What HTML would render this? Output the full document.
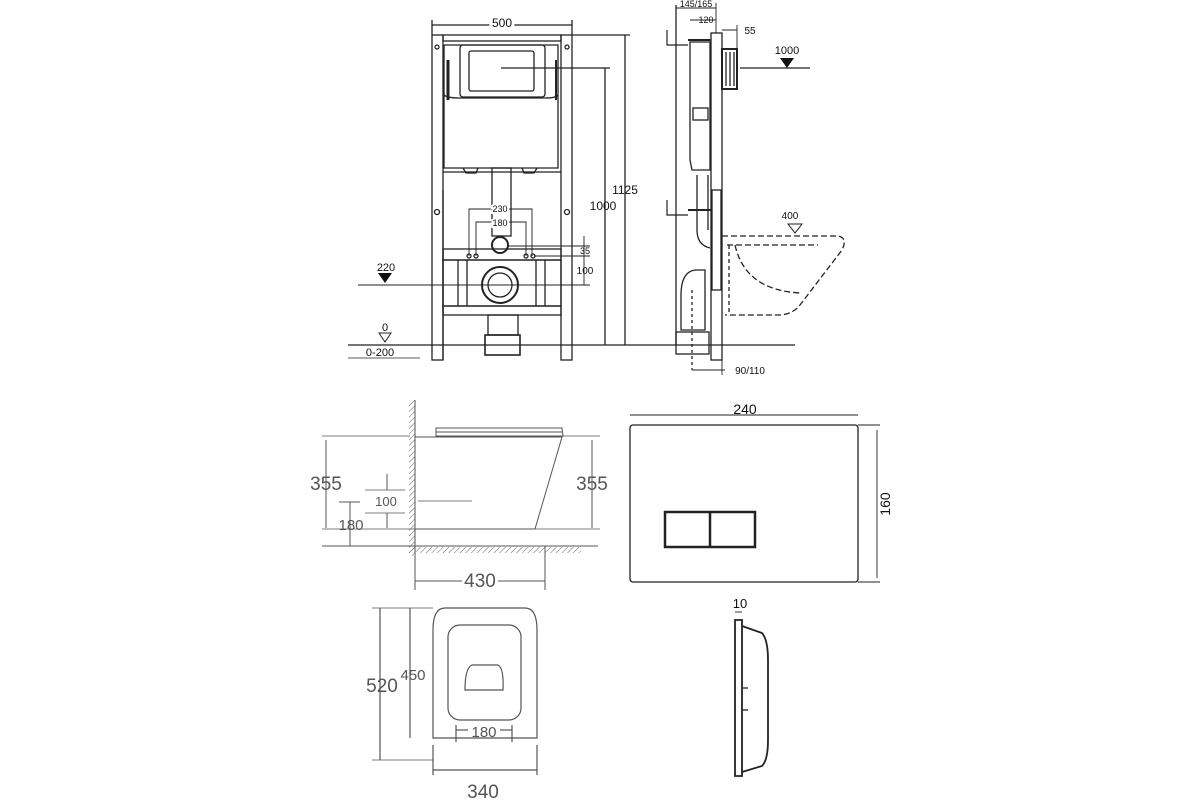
<!DOCTYPE html>
<html><head><meta charset="utf-8"><style>
html,body{margin:0;padding:0;background:#fff;}
svg{display:block;font-family:"Liberation Sans",sans-serif;}
</style></head><body>
<svg width="1200" height="800" viewBox="0 0 1200 800" xmlns="http://www.w3.org/2000/svg">
<defs>
<pattern id="h" width="4" height="4" patternUnits="userSpaceOnUse" patternTransform="rotate(45)">
<line x1="0" y1="0" x2="0" y2="4" stroke="#666" stroke-width="1"/></pattern>
</defs>
<g stroke="#222" stroke-width="1.3" fill="none">
<!-- ===== Front frame ===== -->
<rect x="432" y="35" width="11" height="325"/>
<rect x="561" y="35" width="11" height="325"/>
<rect x="443" y="35" width="118" height="6"/>
<path d="M444 45 L558 45 L558 168 L444 168 Z"/>
<path d="M444 95 Q447 98 460 98 L545 98 Q556 98 558 95"/>
<rect x="460" y="45" width="85" height="52" rx="3"/>
<rect x="469" y="51" width="65" height="40" rx="2"/>
<line x1="448" y1="60" x2="448" y2="100" stroke-width="3"/>
<line x1="556" y1="60" x2="556" y2="100" stroke-width="2"/>
<path d="M463 168 L466 173 L476 173 L478 168 M522 168 L524 173 L534 173 L537 168"/>
<rect x="492" y="168" width="19" height="68"/>
<line x1="443" y1="172" x2="561" y2="172"/>
<line x1="443" y1="190" x2="443" y2="360"/>
<circle cx="437" cy="212" r="2.5"/><circle cx="567" cy="212" r="2.5"/>
<circle cx="437" cy="47" r="2"/><circle cx="567" cy="47" r="2"/>
<circle cx="500" cy="245" r="8" stroke-width="2"/>
<rect x="443" y="249" width="118" height="11"/>
<rect x="443" y="260" width="118" height="46"/>
<line x1="458" y1="260" x2="458" y2="306"/><line x1="467" y1="260" x2="467" y2="306"/>
<line x1="536" y1="260" x2="536" y2="306"/><line x1="545" y1="260" x2="545" y2="306"/>
<circle cx="500" cy="285" r="18" stroke-width="2"/><circle cx="500" cy="285" r="12"/>
<rect x="443" y="306" width="118" height="9"/>
<rect x="488" y="315" width="30" height="20"/>
<rect x="485" y="335" width="35" height="20" stroke-width="1.6"/>
<circle cx="469" cy="256" r="2"/><circle cx="476" cy="256" r="2"/><circle cx="526" cy="256" r="2"/><circle cx="533" cy="256" r="2"/>
<!-- dims front -->
<line x1="432" y1="25" x2="572" y2="25"/>
<line x1="432" y1="20" x2="432" y2="35"/><line x1="572" y1="20" x2="572" y2="35"/>
<line x1="572" y1="35" x2="630" y2="35"/>
<line x1="625" y1="35" x2="625" y2="345"/>
<line x1="501" y1="68" x2="610" y2="68"/>
<line x1="605" y1="68" x2="605" y2="345"/>
<path d="M469 256 L469 209 L532 209 L532 256" stroke-width="0.9"/>
<path d="M476 256 L476 222 L526 222 L526 256" stroke-width="0.9"/>
<line x1="508" y1="246" x2="590" y2="246" stroke-width="0.9"/><line x1="534" y1="256" x2="590" y2="256" stroke-width="0.9"/>
<line x1="584" y1="236" x2="584" y2="285" stroke-width="0.9"/>
<line x1="358" y1="285" x2="590" y2="285" stroke-width="0.9"/>
<line x1="348" y1="345" x2="795" y2="345"/>
<line x1="348" y1="358" x2="420" y2="358" stroke-width="0.8"/>
<!-- ===== Side view ===== -->
<line x1="676" y1="5" x2="676" y2="345"/>
<rect x="711" y="33" width="11" height="327"/>
<rect x="712" y="190" width="9" height="100"/>
<path d="M690 42 L710 42 L710 170 L692 170 L690 160 Z"/>
<rect x="693" y="108" width="15" height="12"/>
<rect x="722" y="49" width="15" height="40" stroke-width="2"/>
<line x1="726" y1="52" x2="726" y2="86"/><line x1="730" y1="52" x2="730" y2="86"/><line x1="734" y1="52" x2="734" y2="86"/>
<line x1="697" y1="175" x2="697" y2="230"/><line x1="708" y1="175" x2="708" y2="230"/>
<path d="M697 230 Q697 245 710 248"/>
<path d="M667 30 L667 45 L688 45 M667 200 L667 215 L688 215" stroke-width="1.2"/>
<line x1="688" y1="40" x2="711" y2="40" stroke-width="2"/><line x1="688" y1="210" x2="711" y2="210" stroke-width="2"/>
<path d="M705 270 L695 270 Q681 272 681 295 L681 330 L705 330 Z"/>
<rect x="676" y="332" width="33" height="22"/>
<line x1="692" y1="290" x2="692" y2="370" stroke-dasharray="3,3"/>
<line x1="740" y1="68" x2="810" y2="68"/>
<path d="M722 236 L838 236 Q848 238 842 250 L800 305 Q792 315 778 315 L725 315" stroke-dasharray="6,3"/>
<line x1="727" y1="245" x2="818" y2="245" stroke-dasharray="6,3"/>
<path d="M735 245 Q745 290 800 293" stroke-dasharray="6,3"/>
<line x1="729" y1="245" x2="729" y2="315" stroke-dasharray="4,3"/>
<path d="M676 8 L716 8 M690 20 L716 20 M722 30 L737 30" stroke-width="0.9"/>
<line x1="716" y1="3" x2="716" y2="33" stroke-width="0.9"/>
<line x1="737" y1="25" x2="737" y2="49" stroke-width="0.9"/>
<line x1="692" y1="370" x2="725" y2="370" stroke-width="0.9"/>
<line x1="722" y1="345" x2="722" y2="375" stroke-width="0.9"/>
</g>
<g stroke="#555" stroke-width="1" fill="none">
<!-- ===== toilet side ===== -->
<rect x="409" y="400" width="6" height="156" fill="url(#h)" stroke="none"/>
<line x1="415" y1="400" x2="415" y2="555"/>
<rect x="409" y="547" width="172" height="6" fill="url(#h)" stroke="none"/>
<line x1="322" y1="546" x2="598" y2="546"/>
<path d="M436 428 L562 428 L563 436 L436 436 Z"/>
<line x1="436" y1="432" x2="562" y2="432"/>
<path d="M415 437 L562 437 L535 529 L415 529"/>
<line x1="322" y1="436" x2="410" y2="436" stroke-width="0.8"/>
<line x1="326" y1="440" x2="326" y2="528"/>
<line x1="322" y1="529" x2="600" y2="529" stroke-width="0.8"/>
<line x1="350" y1="502" x2="350" y2="546"/>
<line x1="339" y1="502" x2="360" y2="502"/>
<line x1="365" y1="490" x2="405" y2="490" stroke-width="0.8"/>
<line x1="365" y1="513" x2="405" y2="513" stroke-width="0.8"/>
<line x1="387" y1="474" x2="387" y2="490"/><line x1="387" y1="513" x2="387" y2="528"/>
<line x1="418" y1="501" x2="472" y2="501" stroke-width="0.8"/>
<line x1="562" y1="436" x2="600" y2="436" stroke-width="0.8"/>
<line x1="592" y1="440" x2="592" y2="528"/>
<line x1="545" y1="546" x2="545" y2="590"/>
<line x1="415" y1="555" x2="415" y2="590"/>
<line x1="415" y1="581" x2="462" y2="581"/><line x1="498" y1="581" x2="545" y2="581"/>
</g>
<g stroke="#222" stroke-width="1.3" fill="none">
<!-- ===== flush plate ===== -->
<rect x="630" y="425" width="228" height="157" rx="3"/>
<rect x="665" y="512" width="90" height="35" stroke-width="2.5"/>
<line x1="710" y1="512" x2="710" y2="547" stroke-width="2.5"/>
<line x1="630" y1="415" x2="858" y2="415" stroke-width="0.9"/>
<line x1="858" y1="425" x2="880" y2="425" stroke-width="0.9"/><line x1="858" y1="582" x2="880" y2="582" stroke-width="0.9"/>
<line x1="877" y1="430" x2="877" y2="578" stroke-width="0.9"/>
<!-- ===== plate side ===== -->
<path d="M735 620 L742 620 L742 776 L735 776 Z" stroke-width="1.8"/>
<path d="M742 626 L762 633 Q768 640 768 660 L768 740 Q768 760 762 766 L742 772" stroke-width="1.8"/>
<line x1="742" y1="688" x2="748" y2="688"/><line x1="742" y1="710" x2="748" y2="710"/>
<line x1="735" y1="612" x2="742" y2="612" stroke-width="0.9"/>
</g>
<g stroke="#555" stroke-width="1.2" fill="none">
<!-- ===== top view ===== -->
<path d="M445 608 L525 608 Q537 608 537 630 L537 738 L433 738 L433 630 Q433 608 445 608 Z"/>
<rect x="448" y="625" width="73" height="95" rx="12"/>
<path d="M472 665 L498 665 Q504 668 503 690 L465 690 Q465 668 472 665 Z"/>
<line x1="372" y1="608" x2="433" y2="608" stroke-width="0.8"/>
<line x1="380" y1="608" x2="380" y2="760"/>
<line x1="372" y1="760" x2="433" y2="760" stroke-width="0.8"/>
<line x1="410" y1="608" x2="410" y2="738"/>
<line x1="433" y1="745" x2="433" y2="775"/><line x1="537" y1="745" x2="537" y2="775"/>
<line x1="433" y1="770" x2="537" y2="770"/>
<line x1="456" y1="730" x2="468" y2="730"/><line x1="500" y1="730" x2="512" y2="730"/>
<line x1="456" y1="725" x2="456" y2="742"/><line x1="512" y1="725" x2="512" y2="742"/>
</g>
<g fill="#111">
<polygon points="378,273 392,273 385,283"/>
<polygon points="780,58 794,58 787,68"/>
</g>
<g fill="none" stroke="#222"><polygon points="379,333 391,333 385,342"/><polygon points="788,224 802,224 795,233"/></g>
<g fill="#111" font-size="11" text-anchor="middle">
<text x="502" y="27" font-size="12" style="paint-order:stroke" stroke="#fff" stroke-width="6">500</text>
<text x="625" y="194" font-size="12">1125</text>
<text x="603" y="210" font-size="12">1000</text>
<text x="500" y="212" font-size="9" style="paint-order:stroke" stroke="#fff" stroke-width="4">230</text>
<text x="500" y="226" font-size="9" style="paint-order:stroke" stroke="#fff" stroke-width="4">180</text>
<text x="585" y="254" font-size="9">35</text>
<text x="585" y="274" font-size="10">100</text>
<text x="386" y="271">220</text>
<text x="385" y="331">0</text>
<text x="380" y="356">0-200</text>
<text x="696" y="7" font-size="9">145/165</text>
<text x="706" y="23" font-size="9">120</text>
<text x="750" y="34" font-size="10">55</text>
<text x="787" y="54" font-size="11">1000</text>
<text x="790" y="219" font-size="10">400</text>
<text x="750" y="374" font-size="10">90/110</text>
<text x="745" y="414" font-size="14">240</text>
<text x="890" y="504" font-size="14" transform="rotate(-90 890 504)">160</text>
<text x="740" y="608" font-size="13">10</text>
</g>
<g fill="#555" text-anchor="middle">
<text x="326" y="490" font-size="19">355</text>
<text x="592" y="490" font-size="19">355</text>
<text x="386" y="506" font-size="13">100</text>
<text x="351" y="530" font-size="15">180</text>
<text x="480" y="587" font-size="19">430</text>
<text x="382" y="692" font-size="19">520</text>
<text x="413" y="680" font-size="15">450</text>
<text x="484" y="737" font-size="15">180</text>
<text x="483" y="798" font-size="19">340</text>
</g>
</svg>
</body></html>
